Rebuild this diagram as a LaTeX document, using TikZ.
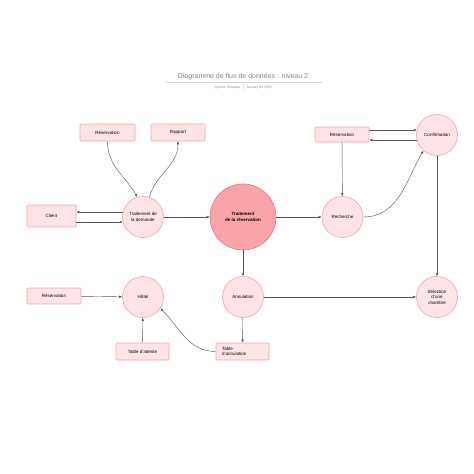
\documentclass[tikz,border=0pt]{standalone}
\usepackage{fontspec}
\setmainfont{Liberation Sans}
\usepackage{tikz}
\usetikzlibrary{calc}
\usetikzlibrary{positioning}
\usetikzlibrary{arrows.meta}
\definecolor{procFill}{HTML}{FFE4E7}
\definecolor{procDraw}{HTML}{F2A2A8}
\definecolor{mainFill}{HTML}{F8A4A8}
\definecolor{mainDraw}{HTML}{DE7A80}
\definecolor{titleCol}{HTML}{7A8597}
\definecolor{flowCol}{HTML}{555555}
\tikzstyle{procnode} = [draw=procDraw, fill=procFill, circle, minimum size=41pt, inner sep=0pt, align=center, line width=0.6pt, font=\fontsize{4.5}{5.4}\selectfont]
\tikzstyle{mainnode} = [procnode, draw=mainDraw, fill=mainFill, minimum size=66pt, font=\fontsize{4.5}{5.4}\selectfont\bfseries]
\tikzstyle{storenode} = [draw=procDraw, fill=procFill, rectangle, rounded corners=1pt, minimum width=54pt, minimum height=17pt, inner sep=1pt, line width=0.6pt, font=\fontsize{4.5}{5.4}\selectfont]
\tikzstyle{flow} = [draw=flowCol, line width=0.4pt, -{Latex[length=3pt,width=2.4pt]}]

\begin{document}
\begin{tikzpicture}[x=1pt, y=-1pt]
    \useasboundingbox[fill=white] (0,0) rectangle (474,474);
    % title
    \node[text=titleCol, font=\fontsize{7}{8}\selectfont] (title) at (243,77) {Diagramme de flux de données : niveau 2};
    \draw[black!15, line width=0.4pt] (165,82) -- (322,82);
    \node[text=black!45, font=\fontsize{3.4}{4}\selectfont] (subtitle) at (243,87.5) {System Template \ $|$ \ January 01 2035};
    % processes
    \node[mainnode] (spine_res) at (243,217) {Traitement\\de la réservation};
    \node[procnode] (proc_dem) at ($(spine_res)+(-100,0)$) {Traitement de\\la demande};
    \node[procnode] (proc_rech) at ($(spine_res)+(99.5,0)$) {Recherche};
    \node[procnode] (proc_conf) at ($(proc_rech)+(94.5,-82)$) {Confirmation};
    \node[procnode] (proc_annul) at ($(spine_res)+(0,80)$) {Annulation};
    \node[procnode] (proc_hotel) at ($(proc_annul)+(-100,0)$) {Hôtel};
    \node[procnode] (proc_sel) at ($(proc_annul)+(194,0)$) {Sélection\\d'une\\chambre};
    % stores
    \node[storenode, minimum width=55pt] (store_resa) at ($(proc_dem)+(-35.5,-84.5)$) {Réservation};
    \node[storenode] (store_rapport) at ($(proc_dem)+(35,-84.5)$) {Rapport};
    \node[storenode, minimum width=49pt, minimum height=22pt] (store_client) at ($(proc_dem)+(-91.5,-1)$) {Client};
    \node[storenode, minimum height=15pt] (store_resb) at ($(proc_rech)+(-0.5,-82.5)$) {Réservation};
    \node[storenode, minimum height=16pt] (store_resc) at ($(proc_hotel)+(-89,-1)$) {Réservation};
    \node[storenode, minimum width=53pt] (store_att) at ($(proc_hotel)+(-0.5,54.5)$) {Table d'attente};
    \node[storenode, minimum width=53pt, text width=41pt, align=left] (store_tann) at ($(proc_annul)+(-0.5,54.5)$) {Table\\d'annulation};
    % flows
    \draw[flow] (store_resa.south) to[out=-90, in=120] (proc_dem.106);
    \draw[flow] (proc_dem.72) to[out=75, in=-90] (store_rapport.south);
    \draw[flow] (proc_dem.166) -- (proc_dem.166 -| store_client.east);
    \draw[flow] (proc_dem.194 -| store_client.east) -- (proc_dem.194);
    \draw[flow] (proc_dem) -- (spine_res);
    \draw[flow] (spine_res) -- (proc_rech);
    \draw[flow] (store_resb) -- (proc_rech);
    \draw[flow] (proc_rech.east) to[out=0, in=-120] (proc_conf.229);
    \draw[flow] (proc_conf.166 -| store_resb.east) -- (proc_conf.166);
    \draw[flow] (proc_conf.194) -- (proc_conf.194 -| store_resb.east);
    \draw[flow] (proc_conf) -- (proc_sel);
    \draw[flow] (spine_res) -- (proc_annul);
    \draw[flow] (proc_annul) -- (proc_sel);
    \draw[flow] (proc_annul) -- (store_tann);
    \draw[flow] (store_resc) -- (proc_hotel);
    \draw[flow] (store_att) -- (proc_hotel);
    \draw[flow] (store_tann.west) to[out=180, in=-45] (proc_hotel.-33);
\end{tikzpicture}
\end{document}
